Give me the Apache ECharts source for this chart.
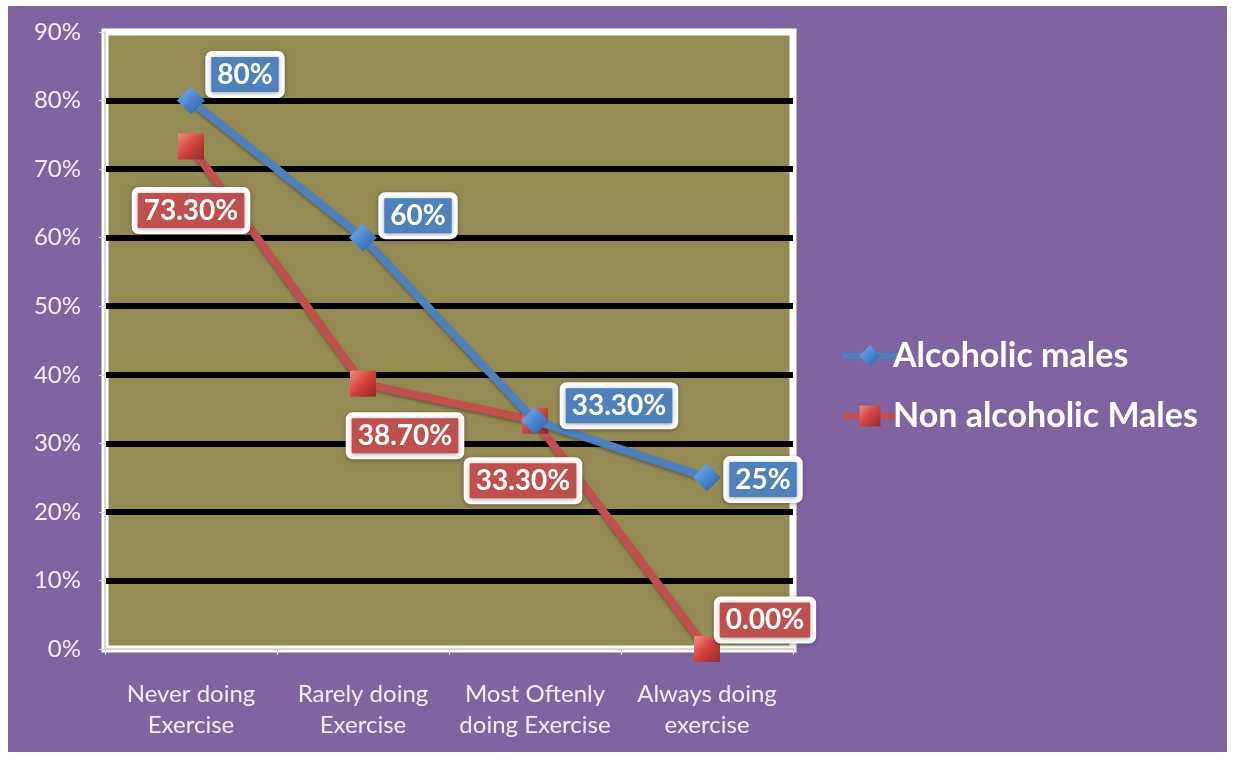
<!DOCTYPE html>
<html><head><meta charset="utf-8">
<script src="https://cdn.jsdelivr.net/npm/echarts@6/dist/echarts.min.js"></script>
<style>
html,body{margin:0;padding:0;background:#fff;width:1236px;height:759px;overflow:hidden}
#c{position:absolute;left:8px;top:6px;width:1219px;height:746px}
</style></head>
<body><div id="c"></div>
<script>
const categories = ['Never doing\nExercise', 'Rarely doing\nExercise', 'Most Oftenly\ndoing Exercise', 'Always doing\nexercise'];
const alcoholic = [80, 60, 33.3, 25];
const nonAlcoholic = [73.3, 38.7, 33.3, 0];
const alcoholicLabels = ['80%', '60%', '33.30%', '25%'];
const nonAlcoholicLabels = ['73.30%', '38.70%', '33.30%', '0.00%'];
const seriesNames = ['Alcoholic males', 'Non alcoholic Males'];
const yTicks = [0, 10, 20, 30, 40, 50, 60, 70, 80, 90];

const FONT = 'Lato, "Open Sans", sans-serif';
const BLUE = '#4F81BD', RED = '#C0504D';
const blueOffsets = [[54,-26],[55,-22],[84,-15],[56,2]];
const redOffsets = [[0,64],[42,52],[-12,60],[58,-29]];

function mkData(vals, labels, offs, color){
  return vals.map((v,i)=>({value:v, label:{show:true, position:'inside', offset:offs[i], formatter:labels[i],
    color:'#fff', fontFamily:FONT, fontWeight:'bold', fontSize:28, backgroundColor:color,
    borderColor:'#fff', borderWidth:6, padding:[5,6,2,6], borderRadius:1,
    shadowColor:'rgba(0,0,0,0.35)', shadowBlur:4, shadowOffsetY:1}}));
}

const chart = echarts.init(document.getElementById('c'), null, {renderer:'canvas'});
chart.setOption({
  backgroundColor:'#8064A2',
  animation:false,
  grid:{left:97, top:26, right:434, bottom:103, show:true, backgroundColor:'#948A54', borderColor:'#fff', borderWidth:7},
  legend:{orient:'vertical', left:827, top:328, itemGap:26, itemWidth:54, itemHeight:26,
    textStyle:{color:'#fff', fontFamily:FONT, fontWeight:'bold', fontSize:34, padding:[0,0,0,-9]},
    lineStyle:{width:6},
    data:seriesNames},
  xAxis:{type:'category', data:categories, boundaryGap:true,
    axisLine:{show:true, lineStyle:{color:'#d9d4dc', width:2}},
    axisTick:{show:true, length:6, lineStyle:{color:'#d9d4dc'}},
    axisLabel:{interval:0, color:'#f4eef8', fontFamily:FONT, fontSize:24, lineHeight:31, margin:30}},
  yAxis:{type:'value', min:0, max:90, interval:10,
    axisLine:{show:true, lineStyle:{color:'#d9d4dc', width:2}},
    axisTick:{show:true, length:6, lineStyle:{color:'#d9d4dc'}},
    axisLabel:{color:'#f4eef8', fontFamily:FONT, fontSize:24, margin:24, formatter:v=>yTicks.includes(v)?v+'%':''},
    splitLine:{show:true, lineStyle:{width:6, color:['rgba(0,0,0,0)','#000','#000','#000','#000','#000','#000','#000','#000','rgba(0,0,0,0)']}}},
  series:[
    {name:seriesNames[0], type:'line', data:mkData(alcoholic, alcoholicLabels, blueOffsets, BLUE), z:3,
     symbol:'diamond', symbolSize:28,
     lineStyle:{color:BLUE, width:8, shadowColor:'rgba(0,0,0,0.3)', shadowBlur:3, shadowOffsetY:2},
     itemStyle:{color:new echarts.graphic.LinearGradient(0,0,1,1,[{offset:0,color:'#7fb0ea'},{offset:0.5,color:'#4a86cf'},{offset:1,color:'#2b5b97'}]), borderWidth:0}},
    {name:seriesNames[1], type:'line', data:mkData(nonAlcoholic, nonAlcoholicLabels, redOffsets, RED), z:2,
     symbol:'rect', symbolSize:26,
     lineStyle:{color:RED, width:8, shadowColor:'rgba(0,0,0,0.3)', shadowBlur:3, shadowOffsetY:2},
     itemStyle:{color:new echarts.graphic.LinearGradient(0,0,1,1,[{offset:0,color:'#f08a86'},{offset:0.5,color:'#d2403b'},{offset:1,color:'#8e2a27'}]), borderWidth:0}}
  ]
});
</script></body></html>
